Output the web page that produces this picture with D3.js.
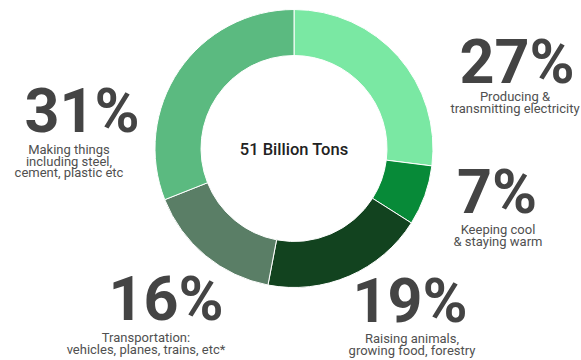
<!DOCTYPE html>
<html>
<head>
<meta charset="utf-8">
<script src="https://cdn.jsdelivr.net/npm/d3@7"></script>
<style>
  html, body { margin: 0; padding: 0; background: #fff; }
  svg { display: block; font-family: Roboto, "Noto Sans", sans-serif; }
</style>
</head>
<body>
<svg id="chart" width="581" height="360"></svg>
<script>
// Sources of global greenhouse emissions, clockwise from 12 o'clock
const sectors = ["electricity", "climate", "agriculture", "transport", "manufacturing"];
const shares = [27, 7, 19, 16, 31];
const captions = [
  ["Producing &", "transmitting electricity"],
  ["Keeping cool", "& staying warm"],
  ["Raising animals,", "growing food, forestry"],
  ["Transportation:", "vehicles, planes, trains, etc*"],
  ["Making things", "including steel,", "cement, plastic etc"]
];
const totalLabel = "51 Billion Tons";

const palette = ["#7ae8a3", "#078a38", "#12431f", "#5a7e66", "#5bba80"];

// Where each percentage and its caption sit around the ring
const layout = {
  electricity:   { num: [517, 83],  cap: [515, 101] },
  climate:       { num: [497, 213], cap: [498, 234] },
  agriculture:   { num: [410, 322], cap: [412, 343] },
  transport:     { num: [166, 320], cap: [146, 342] },
  manufacturing: { num: [82, 132],  cap: [69, 154] }
};

const svg = d3.select("#chart");
const cx = 294, cy = 148.5;
const outerR = 139, innerR = 93;

const color = d3.scaleOrdinal().domain(sectors).range(palette);

const pie = d3.pie().sort(null).value(d => d.value);
const arcs = pie(sectors.map((s, i) => ({ key: s, value: shares[i] })));
const arc = d3.arc().innerRadius(innerR).outerRadius(outerR);

const ring = svg.append("g").attr("transform", `translate(${cx},${cy})`);
ring.selectAll("path")
  .data(arcs)
  .join("path")
  .attr("d", arc)
  .attr("fill", d => color(d.data.key))
  .attr("stroke", "#ffffff")
  .attr("stroke-width", 1);

ring.append("text")
  .attr("text-anchor", "middle")
  .attr("y", 6)
  .attr("font-size", 16.5)
  .attr("font-weight", 500)
  .attr("fill", "#222")
  .text(totalLabel);

const labels = svg.append("g");
arcs.forEach((d, i) => {
  const pos = layout[d.data.key];
  labels.append("text")
    .attr("x", pos.num[0])
    .attr("y", pos.num[1])
    .attr("text-anchor", "middle")
    .attr("font-size", 61)
    .attr("font-weight", 700)
    .attr("fill", "#444")
    .text(`${d.data.value}%`);

  const cap = labels.append("text")
    .attr("text-anchor", "middle")
    .attr("font-size", 13)
    .attr("fill", "#505050");
  captions[i].forEach((line, j) => {
    cap.append("tspan")
      .attr("x", pos.cap[0])
      .attr("y", pos.cap[1] + j * 11.5)
      .text(line);
  });
});
</script>
</body>
</html>
